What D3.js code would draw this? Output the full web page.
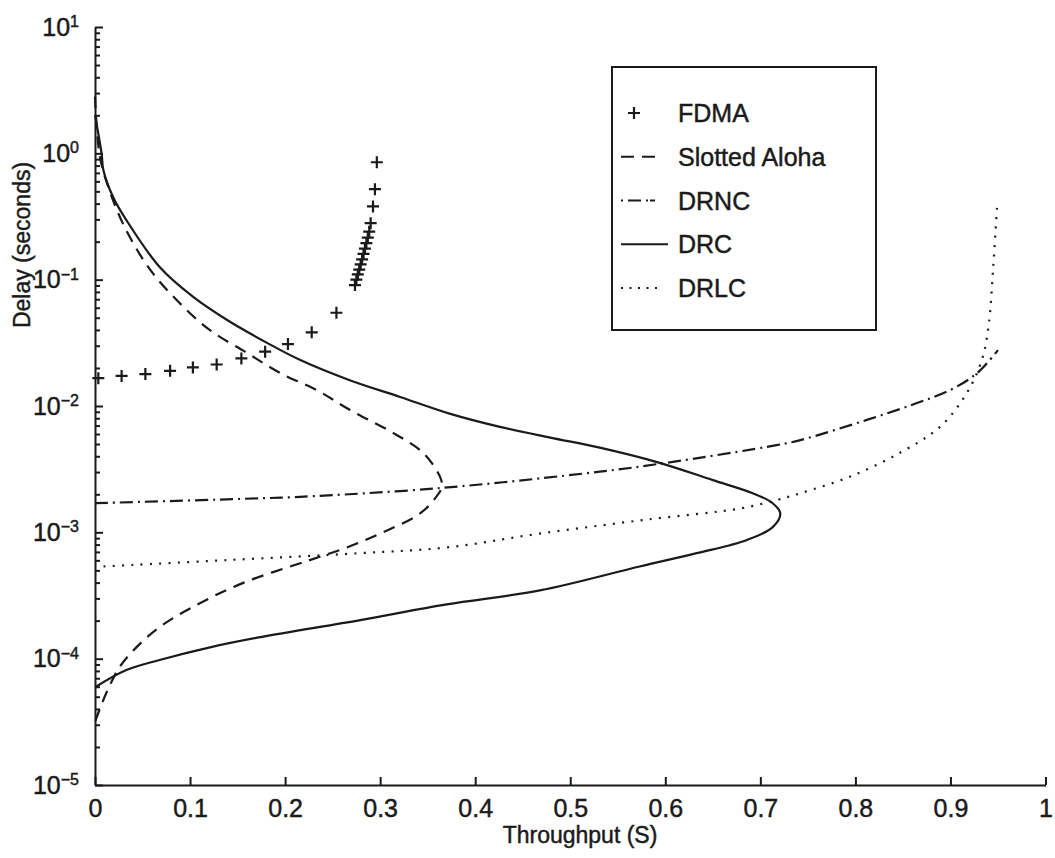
<!DOCTYPE html>
<html lang="en">
<head>
<meta charset="utf-8">
<title>Delay vs Throughput</title>
<script src="https://cdn.jsdelivr.net/npm/d3@7"></script>
<style>
  body { margin: 0; background: #fff; }
  text { font-family: "Liberation Sans", Arial, Helvetica, sans-serif; fill: #1a1a1a; stroke: #1a1a1a; stroke-width: 0.45px; }
</style>
</head>
<body>
<script>
// throughput (S) and delay (seconds)
var drcS = [0, 0.007, 0.0088, 0.019, 0.033, 0.068, 0.103, 0.139, 0.181, 0.216, 0.268, 0.321, 0.373, 0.426, 0.479, 0.531, 0.594, 0.650, 0.692, 0.713, 0.721, 0.713, 0.686, 0.633, 0.573, 0.468, 0.37, 0.279, 0.174, 0.121, 0.068, 0.033, 0];
var drcD = [2.0, 0.986, 0.738, 0.451, 0.296, 0.126, 0.0733, 0.0479, 0.0316, 0.0231, 0.0160, 0.0118, 0.00871, 0.00684, 0.00562, 0.00468, 0.00355, 0.00259, 0.00204, 0.00170, 0.00141, 0.00110, 0.000871, 0.000684, 0.000537, 0.000347, 0.000269, 0.000202, 0.000148, 0.000123, 0.0000977, 0.0000813, 0.0000594];

var alohaS = [0, 0.005, 0.016, 0.033, 0.058, 0.089, 0.121, 0.160, 0.195, 0.233, 0.268, 0.314, 0.345, 0.363, 0.365, 0.359, 0.342, 0.303, 0.265, 0.226, 0.156, 0.103, 0.068, 0.044, 0.026, 0.012, 0];
var alohaD = [2.82, 0.955, 0.490, 0.245, 0.120, 0.0653, 0.0398, 0.0263, 0.0182, 0.0134, 0.00933, 0.00610, 0.00427, 0.00275, 0.00229, 0.00191, 0.00141, 0.00100, 0.000759, 0.000603, 0.000398, 0.000257, 0.000178, 0.000124, 0.0000861, 0.0000537, 0.0000316];

var drncS = [0, 0.174, 0.216, 0.363, 0.531, 0.601, 0.717, 0.742, 0.812, 0.864, 0.90, 0.928, 0.950];
var drncD = [0.00170, 0.00186, 0.00191, 0.00224, 0.00302, 0.00355, 0.00490, 0.00537, 0.00776, 0.0105, 0.0134, 0.0182, 0.0277];

var drlcS = [0.009, 0.139, 0.279, 0.37, 0.468, 0.58, 0.68, 0.717, 0.742, 0.794, 0.847, 0.889, 0.917, 0.933, 0.940, 0.945, 0.949];
var drlcD = [0.000537, 0.000603, 0.000684, 0.000759, 0.000977, 0.00126, 0.00155, 0.00180, 0.00204, 0.00275, 0.00427, 0.00684, 0.0126, 0.0231, 0.0424, 0.126, 0.378];

var fdmaS = [0.0035, 0.028, 0.053, 0.079, 0.103, 0.128, 0.154, 0.179, 0.203, 0.228, 0.254, 0.2735, 0.275, 0.2765, 0.278, 0.2795, 0.281, 0.2825, 0.284, 0.2855, 0.287, 0.2885, 0.29, 0.2925, 0.2945, 0.2965];
var fdmaD = [0.0166, 0.0173, 0.0179, 0.0190, 0.0202, 0.0213, 0.0238, 0.0269, 0.0309, 0.0383, 0.0547, 0.0906, 0.100, 0.110, 0.120, 0.132, 0.145, 0.160, 0.176, 0.195, 0.215, 0.240, 0.28, 0.38, 0.52, 0.85];

var xTicks = [0, 0.1, 0.2, 0.3, 0.4, 0.5, 0.6, 0.7, 0.8, 0.9, 1];
var xTickLabels = ["0", "0.1", "0.2", "0.3", "0.4", "0.5", "0.6", "0.7", "0.8", "0.9", "1"];
var yExponents = [1, 0, -1, -2, -3, -4, -5];

var legendNames = ["FDMA", "Slotted Aloha", "DRNC", "DRC", "DRLC"];

var w = 1055, h = 858;
var ink = "#1a1a1a";

var svg = d3.select("body").append("svg")
    .attr("width", w)
    .attr("height", h);

var x = d3.scaleLinear().domain([0, 1]).range([95, 1045.5]);
var y = d3.scaleLog().domain([1e-5, 10]).range([785, 27]);

// x axis, ticks pointing up
var xAxis = svg.append("g")
    .attr("transform", "translate(0," + y(1e-5) + ")")
    .call(d3.axisBottom(x).tickValues(xTicks).tickSizeInner(-8).tickSizeOuter(0).tickPadding(14)
        .tickFormat(function(d, i) { return xTickLabels[i]; }));
xAxis.selectAll("text").style("font-size", "25px").attr("fill", ink);

// y axis: major + minor ticks pointing right
var minor = [];
for (var k = -5; k < 1; k++) {
    for (var m = 2; m <= 9; m++) minor.push(m * Math.pow(10, k));
}
var yAxis = svg.append("g")
    .attr("transform", "translate(" + x(0) + ",0)")
    .call(d3.axisLeft(y).tickValues(yExponents.map(function(e) { return Math.pow(10, e); }))
        .tickSizeInner(-8).tickSizeOuter(0).tickFormat(""));
svg.append("g")
    .attr("transform", "translate(" + x(0) + ",0)")
    .call(d3.axisLeft(y).tickValues(minor).tickSizeInner(-5).tickSizeOuter(0).tickFormat(""))
    .select(".domain").remove();
svg.selectAll(".domain, .tick line").attr("stroke", ink).attr("stroke-width", 2);

var ylab = svg.append("g").selectAll("text")
    .data(yExponents)
    .enter()
    .append("text")
    .attr("x", 79)
    .attr("y", function(d) { return y(Math.pow(10, d)); })
    .attr("dy", "0.35em")
    .attr("text-anchor", "end")
    .style("font-size", "25px");
ylab.append("tspan").text("10");
ylab.append("tspan")
    .attr("dy", "-0.55em")
    .style("font-size", "16px")
    .text(function(d) { return d < 0 ? "\u2212" + (-d) : String(d); });

// axis titles
svg.append("text")
    .attr("x", 580)
    .attr("y", 843)
    .attr("text-anchor", "middle")
    .style("font-size", "23px")
    .text("Throughput (S)");
svg.append("text")
    .attr("transform", "translate(30,245) rotate(-90)")
    .attr("text-anchor", "middle")
    .style("font-size", "23px")
    .text("Delay (seconds)");

// curves
function pts(s, d) {
    return s.map(function(v, i) { return [x(v), y(d[i])]; });
}
var line = d3.line().curve(d3.curveCatmullRom.alpha(0.5));

var series = [
    { s: alohaS, d: alohaD, dash: "12,8" },
    { s: drncS, d: drncD, dash: "13,5,2,5" },
    { s: drcS, d: drcD, dash: null },
    { s: drlcS, d: drlcD, dash: "2,7.3" }
];
svg.selectAll("path.curve")
    .data(series)
    .enter()
    .append("path")
    .attr("class", "curve")
    .attr("d", function(c) { return line(pts(c.s, c.d)); })
    .attr("fill", "none")
    .attr("stroke", ink)
    .attr("stroke-width", 2.2)
    .attr("stroke-dasharray", function(c) { return c.dash; });

// FDMA plus markers
svg.selectAll("path.fdma")
    .data(pts(fdmaS, fdmaD))
    .enter()
    .append("path")
    .attr("class", "fdma")
    .attr("d", "M-6,0H6M0,-6V6")
    .attr("transform", function(p) { return "translate(" + p[0] + "," + p[1] + ")"; })
    .attr("stroke", ink)
    .attr("stroke-width", 2.2);

// legend
var lg = svg.append("g");
lg.append("rect")
    .attr("x", 612).attr("y", 67)
    .attr("width", 264).attr("height", 263)
    .attr("fill", "#fff")
    .attr("stroke", ink)
    .attr("stroke-width", 2);
var rowY = d3.scalePoint().domain(legendNames).range([113, 288]);
var legDash = [null, "13,8", "2,5,13,5,2", "", "2,6.5"];
legendNames.forEach(function(n, i) {
    var yy = rowY(n);
    if (i === 0) {
        lg.append("path").attr("d", "M-6,0H6M0,-6V6")
            .attr("transform", "translate(634," + yy + ")")
            .attr("stroke", ink).attr("stroke-width", 2.2);
    } else {
        lg.append("line")
            .attr("x1", 621).attr("x2", i === 1 ? 655 : (i === 4 ? 662 : 668))
            .attr("y1", yy).attr("y2", yy)
            .attr("stroke", ink).attr("stroke-width", 2.2)
            .attr("stroke-dasharray", legDash[i] || null);
    }
    lg.append("text")
        .attr("x", 678).attr("y", yy)
        .attr("dy", "0.36em")
        .style("font-size", "25px")
        .text(n);
});
</script>
</body>
</html>
